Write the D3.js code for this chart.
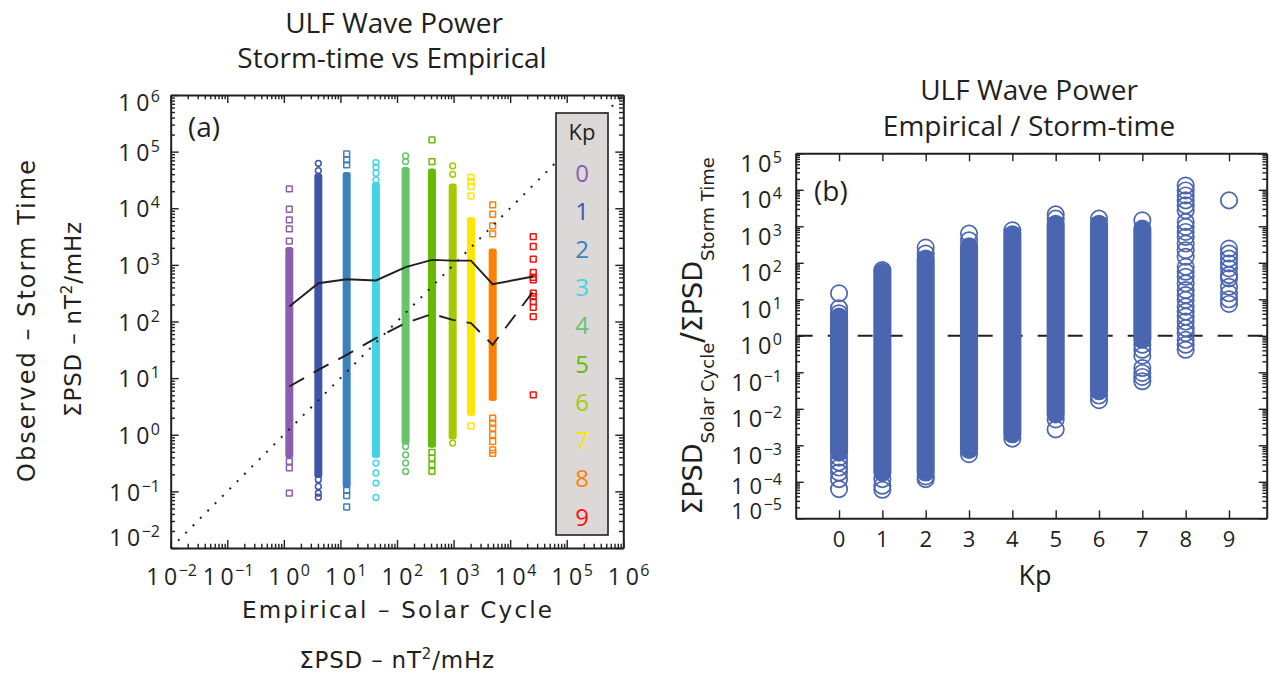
<!DOCTYPE html>
<html><head><meta charset="utf-8">
<script src="https://cdn.jsdelivr.net/npm/d3@7"></script>
<style>body{margin:0;background:#fff}svg{display:block}text{font-family:"Open Sans",sans-serif;fill:#231f20}.lab{font-family:"DejaVu Sans",sans-serif}</style>
</head><body>
<svg id="c" width="1270" height="677"></svg>
<script>
// ---------- shared ----------
const kpLevels = [0,1,2,3,4,5,6,7,8,9];
const kpColors = ["#8b5fae","#3f55a9","#3b80c1","#46d3e5","#67c36c","#67b902","#a3cb03","#fde603","#fd8003","#fd0f0f"];
const kpRoundMarker = [0,1,0,1,1,0,1,0,0,0];

// ---------- panel (a) data ----------
const empiricalX   = [1.25, 4.07, 12.9, 42.5, 142, 415, 964, 2030, 4910, 25600];
const stormBandHigh = [1840, 36300, 38700, 25800, 47500, 44400, 24100, 6220, 1720, null];
const stormBandLow  = [0.44, 0.197, 0.131, 0.44, 0.76, 0.667, 0.935, 2.41, 4.44, null];
const stormOutliers = [
  [21900, 9600, 6220, 4310, 2620, 0.34, 0.26, 0.093],
  [62200, 46200, 0.161, 0.122, 0.093, 0.079],
  [91000, 71300, 58200, 0.104, 0.084, 0.053],
  [64000, 53000, 41500, 31600, 0.316, 0.211, 0.14, 0.078],
  [84000, 66700, 0.62, 0.44, 0.316, 0.225],
  [160700, 66700, 0.488, 0.387, 0.296, 0.225],
  [55800, 39800, 0.713],
  [35200, 29500, 24100, 16500, 1.44],
  [11500, 7830, 4880, 3530, 1.97, 1.61, 1.31, 1.0, 0.76, 0.54, 0.47],
  [3160, 2110, 1260, 733, 605, 543, 316, 276, 225, 177, 122, 5.08]
];
const solidLine  = [184, 474, 558, 530, 910, 1225, 1190, 1190, 456, 622];
const dashedLine = [7.1, 14.0, 25.8, 50.8, 93.5, 136, 107, 93.5, 38.7, 340];
const diagonalEnds = [1e-2, 1e6];
const ticksA = [1e-2,1e-1,1e0,1e1,1e2,1e3,1e4,1e5,1e6];

// ---------- panel (b) data ----------
const ratioBandHigh = [3.37, 56.9, 131, 285, 605, 1180, 1180, 863, null, null];
const ratioBandLow  = [6.3e-4, 1.8e-4, 1.8e-4, 7.5e-4, 2e-3, 7e-3, 0.0303, 0.778, null, null];
const ratioOutliers = [
  [14.6, 5.7, 4.15, 4.6e-4, 3.4e-4, 2.46e-4, 1.8e-4, 1.18e-4, 6.3e-5],
  [63, 1.18e-4, 7.8e-5, 6.05e-5],
  [262, 180, 1.4e-4, 1.18e-4],
  [631, 415, 5.7e-4],
  [778, 1.52e-3],
  [2120, 1620, 5.1e-3, 2.73e-3],
  [1620, 0.0231, 0.0172],
  [1460, 0.568, 0.415, 0.285, 0.131, 0.096, 0.0746, 0.0569],
  [13100, 9600, 7000, 5120, 3740, 2730, 1310, 960, 700, 512, 337, 221, 146, 77.8, 56.9, 41.5, 27.3, 18.0, 13.1, 9.6, 6.31, 4.61, 3.37, 2.46, 1.62, 1.18, 0.778, 0.568, 0.415],
  [5120, 246, 180, 131, 96, 70, 46, 37.4, 22.1, 14.6, 10, 7.46]
];
const unityLine = 1;
const ticksB = [1e-5,1e-4,1e-3,1e-2,1e-1,1e0,1e1,1e2,1e3,1e4,1e5];
const circleColor = "#4b66b0";

// ---------- helpers ----------
const svg = d3.select("#c");
function minorTicks(lo, hi){ const out=[]; for(let e=lo;e<hi;e++) for(let m=2;m<=9;m++) out.push(m*Math.pow(10,e)); return out; }
function styleAxis(sel, sw){ sel.selectAll(".domain").attr("stroke","#231f20").attr("stroke-width",sw);
  sel.selectAll(".tick line").attr("stroke","#231f20").attr("stroke-width",1.4); sel.selectAll(".tick text").remove(); }
function expStr(t){ const e=Math.round(Math.log10(t)); return e<0 ? "\u2212"+(-e) : String(e); }
const BASE_W = 31;
function labelLeft(g, xRight, cy, t, fs){
  const cap = fs*0.714;
  const sup = g.append("text").attr("x",xRight).attr("y",cy+cap/2-9).attr("text-anchor","end").attr("font-size",16).text(expStr(t));
  const sw = sup.node().getComputedTextLength();
  g.append("text").attr("x",xRight-sw-1.5).attr("y",cy+cap/2).attr("text-anchor","end").attr("font-size",fs)
    .attr("textLength",BASE_W).attr("lengthAdjust","spacing").text("10");
}
function labelBottom(g, cx, cy, t, fs){
  const cap = fs*0.714; const neg = t<1 ? 9 : 0;
  g.append("text").attr("x",cx-neg).attr("y",cy+cap/2).attr("text-anchor","middle").attr("font-size",fs)
    .attr("textLength",BASE_W).attr("lengthAdjust","spacing").text("10");
  g.append("text").attr("x",cx-neg+BASE_W/2+1.5).attr("y",cy+cap/2-9).attr("text-anchor","start").attr("font-size",16).text(expStr(t));
}
function logAxes(g, x, y, xTicks, yTicks, xMinor, yMinor, L, R, T, B){
  const maj=8, mn=4.3;
  styleAxis(g.append("g").attr("transform",`translate(${L},0)`).call(d3.axisLeft(y).tickValues(yTicks).tickSize(-maj).tickSizeOuter(0)),2);
  styleAxis(g.append("g").attr("transform",`translate(${R},0)`).call(d3.axisRight(y).tickValues(yTicks).tickSize(-maj).tickSizeOuter(0)),2);
  if(yMinor){
    styleAxis(g.append("g").attr("transform",`translate(${L},0)`).call(d3.axisLeft(y).tickValues(yMinor).tickSize(-mn).tickSizeOuter(0)),0);
    styleAxis(g.append("g").attr("transform",`translate(${R},0)`).call(d3.axisRight(y).tickValues(yMinor).tickSize(-mn).tickSizeOuter(0)),0);
  }
  styleAxis(g.append("g").attr("transform",`translate(0,${B})`).call(d3.axisBottom(x).tickValues(xTicks).tickSize(-maj).tickSizeOuter(0)),2);
  styleAxis(g.append("g").attr("transform",`translate(0,${T})`).call(d3.axisTop(x).tickValues(xTicks).tickSize(-maj).tickSizeOuter(0)),2);
  if(xMinor){
    styleAxis(g.append("g").attr("transform",`translate(0,${B})`).call(d3.axisBottom(x).tickValues(xMinor).tickSize(-mn).tickSizeOuter(0)),0);
    styleAxis(g.append("g").attr("transform",`translate(0,${T})`).call(d3.axisTop(x).tickValues(xMinor).tickSize(-mn).tickSizeOuter(0)),0);
  }
  g.selectAll(".domain").filter(function(){return +d3.select(this).attr("stroke-width")===0;}).remove();
}

// ================= PANEL A =================
const A = {L:170.7, R:623.3, T:95, B:548};
const xA = d3.scaleLog().domain([1e-2,1e6]).range([A.L,A.R]);
const yA = d3.scaleLog().domain([1e-2,1e6]).range([A.B,A.T]);
const gA = svg.append("g");

gA.selectAll("rect.band").data(kpLevels.filter(k=>stormBandHigh[k]!==null)).join("rect")
  .attr("x",k=>xA(empiricalX[k])-4).attr("width",8)
  .attr("y",k=>yA(stormBandHigh[k])-3).attr("height",k=>yA(stormBandLow[k])-yA(stormBandHigh[k])+6)
  .attr("rx",2.5).attr("fill",k=>kpColors[k]);
const outA = kpLevels.flatMap(k=>stormOutliers[k].map(v=>({k,v})));
gA.selectAll("rect.out").data(outA).join("rect")
  .attr("x",d=>xA(empiricalX[d.k])-2.9).attr("y",d=>yA(d.v)-2.9).attr("width",5.8).attr("height",5.8)
  .attr("rx",d=>kpRoundMarker[d.k]?2.9:0.3)
  .attr("fill","none").attr("stroke",d=>kpColors[d.k]).attr("stroke-width",1.5);

gA.append("path").datum(diagonalEnds).attr("d",d3.line().x(v=>xA(v)).y(v=>yA(v)))
  .attr("stroke","#231f20").attr("stroke-width",2).attr("stroke-dasharray","2,8.4").attr("fill","none");
gA.append("path").datum(kpLevels).attr("d",d3.line().x(k=>xA(empiricalX[k])).y(k=>yA(solidLine[k])))
  .attr("stroke","#231f20").attr("stroke-width",1.9).attr("fill","none");
gA.append("path").datum(kpLevels).attr("d",d3.line().x(k=>xA(empiricalX[k])).y(k=>yA(dashedLine[k])))
  .attr("stroke","#231f20").attr("stroke-width",1.9).attr("stroke-dasharray","17,11").attr("fill","none");

const legX0 = 556, legX1 = 608, legY0 = 113, legY1 = 535;
gA.append("rect").attr("x",legX0).attr("y",legY0).attr("width",legX1-legX0).attr("height",legY1-legY0)
  .attr("fill","#dcd8d7").attr("stroke","#231f20").attr("stroke-width",1.6);
gA.append("text").attr("x",(legX0+legX1)/2).attr("y",140).attr("text-anchor","middle").attr("font-size",22).text("Kp");
const legY = d3.scalePoint().domain(kpLevels).range([173,517]);
gA.selectAll("text.leg").data(kpLevels).join("text").attr("class","leg")
  .attr("x",(legX0+legX1)/2).attr("y",k=>legY(k)+8.5).attr("text-anchor","middle").attr("font-size",24)
  .style("fill",k=>kpColors[k]).text(k=>k);

logAxes(gA, xA, yA, ticksA, ticksA, minorTicks(-2,6), minorTicks(-2,6), A.L, A.R, A.T, A.B);
ticksA.forEach((t,i)=>{
  const off = i===0 ? -10 : (i===ticksA.length-1 ? 8 : 1);
  labelLeft(gA, 160, yA(t)+off, t, 23);
  labelBottom(gA, xA(t), 577, t, 23);
});
gA.append("text").attr("x",188).attr("y",137).attr("font-size",28).text("(a)");

gA.append("text").attr("x",394).attr("y",33).attr("text-anchor","middle").attr("font-size",28).text("ULF Wave Power");
gA.append("text").attr("x",392).attr("y",68).attr("text-anchor","middle").attr("font-size",28).text("Storm-time vs Empirical");
gA.append("text").attr("class","lab").attr("x",397).attr("y",618).attr("text-anchor","middle").attr("font-size",23)
  .attr("textLength",310).attr("lengthAdjust","spacing").text("Empirical \u2013 Solar Cycle");
const xl2 = gA.append("text").attr("class","lab").attr("x",397).attr("y",668).attr("text-anchor","middle").attr("font-size",23).attr("letter-spacing",0.8);
xl2.append("tspan").text("\u03A3PSD \u2013 nT");
xl2.append("tspan").attr("font-size",15).attr("dy",-9).text("2");
xl2.append("tspan").attr("dy",9).text("/mHz");
gA.append("text").attr("class","lab").attr("transform","translate(35,321) rotate(-90)").attr("text-anchor","middle").attr("font-size",24)
  .attr("textLength",322).attr("lengthAdjust","spacing").text("Observed \u2013 Storm Time");
const yl2 = gA.append("text").attr("class","lab").attr("transform","translate(81,319) rotate(-90)").attr("text-anchor","middle").attr("font-size",23).attr("letter-spacing",0.8);
yl2.append("tspan").text("\u03A3PSD \u2013 nT");
yl2.append("tspan").attr("font-size",15).attr("dy",-9).text("2");
yl2.append("tspan").attr("dy",9).text("/mHz");

// ================= PANEL B =================
const Bp = {L:795.7, R:1266.7, T:153.3, B:518.3};
const xB = d3.scaleLinear().domain([-1,9.87]).range([Bp.L,Bp.R]);
const yB = d3.scaleLog().domain([1e-5,1e5]).range([Bp.B,Bp.T]);
const gB = svg.append("g");

gB.append("path").datum([-1,9.87]).attr("d",d3.line().x(k=>xB(k)).y(()=>yB(unityLine)))
  .attr("stroke","#231f20").attr("stroke-width",2).attr("stroke-dasharray","15,15").attr("stroke-dashoffset",-2).attr("fill","none");

const rC = 8.2, swC = 1.7;
gB.selectAll("rect.band").data(kpLevels.filter(k=>ratioBandHigh[k]!==null)).join("rect")
  .attr("x",k=>xB(k)-rC-swC/2).attr("width",2*rC+swC)
  .attr("y",k=>yB(ratioBandHigh[k])-rC-swC/2).attr("height",k=>yB(ratioBandLow[k])-yB(ratioBandHigh[k])+2*rC+swC)
  .attr("rx",rC+swC/2).attr("fill",circleColor);
const outB = kpLevels.flatMap(k=>ratioOutliers[k].map(v=>({k,v})));
gB.selectAll("circle.out").data(outB).join("circle")
  .attr("cx",d=>xB(d.k)).attr("cy",d=>yB(d.v)).attr("r",rC)
  .attr("fill","none").attr("stroke",circleColor).attr("stroke-width",swC);

logAxes(gB, xB, yB, kpLevels, ticksB, null, minorTicks(-5,5), Bp.L, Bp.R, Bp.T, Bp.B);
ticksB.forEach((t,i)=>{
  const off = i===0 ? -7 : (i===1 ? 4 : 10);
  labelLeft(gB, 782, yB(t)+off, t, i<2 ? 22 : 23.5);
});
gB.selectAll("text.kp").data(kpLevels).join("text").attr("class","kp")
  .attr("x",k=>xB(k)).attr("y",546.5).attr("text-anchor","middle").attr("font-size",22).text(k=>k);
gB.append("text").attr("x",1035).attr("y",585).attr("text-anchor","middle").attr("font-size",27).text("Kp");
gB.append("text").attr("x",814).attr("y",201).attr("font-size",28).text("(b)");
gB.append("text").attr("x",1029).attr("y",100).attr("text-anchor","middle").attr("font-size",28).text("ULF Wave Power");
gB.append("text").attr("x",1029).attr("y",136).attr("text-anchor","middle").attr("font-size",28).text("Empirical / Storm-time");

const yb = gB.append("text").attr("class","lab").attr("transform","translate(702,336) rotate(-90)").attr("text-anchor","middle").attr("font-size",27);
yb.append("tspan").text("\u03A3PSD");
yb.append("tspan").attr("font-size",18).attr("dy",12).text("Solar Cycle");
yb.append("tspan").attr("font-size",31).attr("dy",-12).text("/");
yb.append("tspan").text("\u03A3PSD");
yb.append("tspan").attr("font-size",18).attr("dy",12).text("Storm Time");
</script>
</body></html>
